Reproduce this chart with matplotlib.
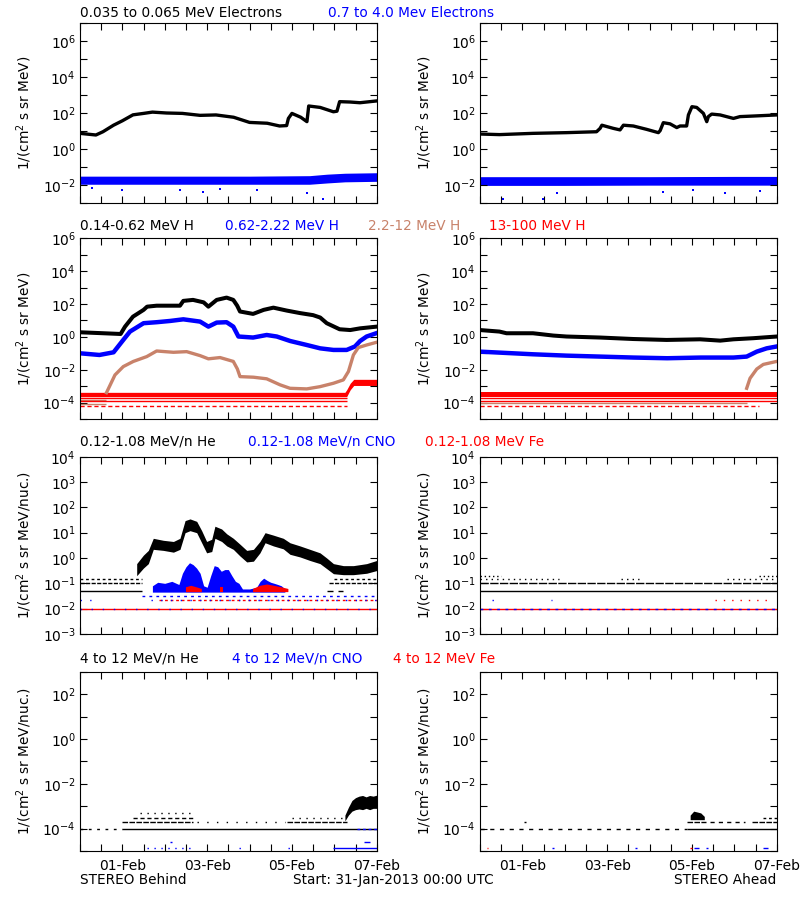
import numpy as np
import matplotlib
matplotlib.use("Agg")
import matplotlib.pyplot as plt
import matplotlib.dates as mdates
from matplotlib.ticker import FixedLocator, NullFormatter, LogFormatterMathtext

nan = np.nan
START = np.datetime64("2013-01-31T00:00")

BLACK = "#000000"
BLUE = "#0000ff"
SIENNA = "#c8826a"
RED = "#ff0000"

# ------------------------------------------------------------
# data: hours since 31-Jan-2013 00:00 UTC, fluxes
# ------------------------------------------------------------

# row 1: electrons
beh_elo_hours = [0, 9, 13, 19, 24, 30, 36, 41, 49, 58, 68, 77, 87, 96, 106, 113, 117,
                 118, 120, 125, 128.5, 129.5, 136, 143.5, 145.5, 147, 153, 158.5, 168]
beh_elo_flux = [7.4, 6.0, 9.1, 21, 37, 79, 95, 112, 100, 95, 74, 78, 58, 30, 27, 19, 20,
                50, 95, 58, 33, 245, 204, 117, 126, 427, 407, 372, 468]
beh_ehi_hours = [0, 48, 96, 130, 140, 150, 168]
beh_ehi_upper = [0.031, 0.031, 0.031, 0.033, 0.040, 0.045, 0.048]
beh_ehi_lower = [0.011, 0.011, 0.011, 0.011, 0.013, 0.015, 0.016]
beh_ehi_out_hours = [6.6, 23.6, 56.6, 69.8, 79, 100, 128.7, 137.8]
beh_ehi_out_flux = [0.0066, 0.0054, 0.0054, 0.004, 0.0058, 0.0054, 0.0038, 0.0017]

ahd_elo_hours = [0, 11, 30, 49, 66, 68, 69, 75.5, 79.3, 81.2, 86.8, 94.4, 101, 102, 103.8,
                 107.6, 111.4, 113.3, 117, 118, 120, 122.7, 126.5, 128.4, 129.3, 131.2,
                 136, 143.5, 147.2, 155, 168]
ahd_elo_flux = [6.8, 6.3, 7.4, 8.1, 9.1, 14, 21, 14, 11.5, 21, 19, 12.3, 8.1, 10.5, 29,
                25, 15.5, 19, 19, 78, 224, 204, 95, 33, 63, 87, 78, 50, 63, 68, 78]
ahd_ehi_hours = [0, 48, 96, 144, 168]
ahd_ehi_upper = [0.029, 0.029, 0.029, 0.030, 0.030]
ahd_ehi_lower = [0.0095, 0.0095, 0.0098, 0.0098, 0.0098]
ahd_ehi_out_hours = [13.2, 35.9, 43.4, 103.8, 120.8, 138.7, 158.6]
ahd_ehi_out_flux = [0.0017, 0.0017, 0.0038, 0.004, 0.0054, 0.0038, 0.0046]

# row 2: protons
beh_h1_hours = [0, 11, 23, 25.5, 30, 36, 38, 43.4, 49, 56.6, 58.5, 64, 70, 72.7, 77.4, 83,
                86.8, 89, 90.6, 98, 104, 109.5, 117, 124.6, 132, 136, 139.7, 147, 153,
                158.6, 168]
beh_h1_flux = [1.9, 1.7, 1.5, 4.2, 17, 44, 69, 79, 79, 79, 155, 178, 126, 69, 178, 245,
               178, 79, 35, 25, 44, 60, 40, 28, 21, 15, 6.8, 2.9, 2.6, 3.3, 4.2]
beh_h2_hours = [0, 11, 19, 24.5, 28.3, 36, 43.4, 51, 58.5, 68, 72.7, 77.4, 83, 86.8, 89.7,
                98, 105.7, 111.4, 119, 128.4, 136, 143.5, 151, 155.7, 158.6, 162.3, 168]
beh_h2_flux = [0.10, 0.079, 0.115, 0.65, 2.1, 6.8, 7.8, 9.3, 11.7, 8.5, 4.2, 7.4, 7.8, 4.2,
               1.05, 0.91, 1.3, 1.05, 0.56, 0.32, 0.20, 0.16, 0.16, 0.26, 0.56, 1.05, 1.7]
beh_h3_hours = [15, 19.8, 24.5, 30.2, 37.8, 43.4, 52.9, 60.4, 68, 72.7, 79.3, 86.8, 89.1,
                90.6, 98.2, 105.7, 113.3, 118.9, 128.4, 135.9, 143.5, 149.1, 152, 154.8,
                157.6, 162.3, 168]
beh_h3_flux = [4e-4, 4.8e-3, 0.0155, 0.032, 0.063, 0.138, 0.115, 0.126, 0.072, 0.046,
               0.055, 0.032, 0.0112, 0.0038, 0.0035, 0.0028, 0.0012, 7.4e-4, 6.8e-4,
               9.3e-4, 1.5e-3, 2.4e-3, 7.8e-3, 0.079, 0.224, 0.32, 0.47]
beh_h4_hours = [0, 150, 151, 153, 155, 168]
beh_h4_upper = [4.2e-4, 4.2e-4, 6e-4, 1.5e-3, 2.6e-3, 2.6e-3]
beh_h4_lower = [2.3e-4, 2.3e-4, 2.3e-4, 6e-4, 1.1e-3, 1.1e-3]

ahd_h1_hours = [0, 11, 15, 30, 41.5, 49, 68, 86.8, 105.7, 124.6, 136, 143.5, 154.8, 168]
ahd_h1_flux = [2.6, 2.1, 1.66, 1.66, 1.2, 1.05, 0.91, 0.74, 0.65, 0.71, 0.59, 0.71, 0.83, 1.05]
ahd_h2_hours = [0, 30, 49, 68, 87, 106, 125, 143.5, 151, 156.7, 162.3, 168]
ahd_h2_flux = [0.126, 0.087, 0.072, 0.063, 0.055, 0.05, 0.055, 0.055, 0.063, 0.126, 0.2, 0.26]
ahd_h3_hours = [151, 152.9, 156.7, 160.4, 168]
ahd_h3_flux = [7.4e-4, 3e-3, 0.011, 0.021, 0.032]
ahd_h4_hours = [0, 168]
ahd_h4_upper = [4.2e-4, 4.2e-4]
ahd_h4_lower = [2.3e-4, 2.3e-4]

# row 3: low energy ions
beh_he_hours = [32.1, 35.9, 38.7, 41.5, 47.2, 52.9, 56.6, 59.5, 62.3, 66.1, 68.9, 71.7,
                74.6, 76.4, 80.2, 83.1, 86.8, 90.6, 94.4, 98.2, 101.9, 104.8, 109.5,
                115.1, 118.9, 124.6, 130.2, 135.9, 139.7, 143.5, 149.1, 154.8, 162.3, 168]
beh_he_upper = [0.6, 1.3, 2.0, 6, 5, 4.5, 6, 30, 35, 28, 12, 4.5, 5.5, 18, 14, 9, 6, 3.5,
                2.0, 2.2, 4.5, 10, 8, 6, 4, 3, 2.2, 1.6, 1.0, 0.6, 0.5, 0.5, 0.6, 0.8]
beh_he_lower = [0.2, 0.4, 0.6, 2.2, 2.0, 1.7, 2.2, 10, 12, 10, 4, 1.6, 1.8, 6, 4.5, 3, 2.2,
                1.2, 0.7, 0.75, 1.6, 4, 3, 2.3, 1.4, 1.1, 0.8, 0.6, 0.38, 0.24, 0.22,
                0.22, 0.25, 0.32]
beh_cno_hours = [41, 44, 48, 52, 56, 58, 60, 62, 64, 66, 68, 70, 72, 74, 76, 78, 80, 82,
                 84, 86, 88, 90, 92, 96, 100, 102, 104, 106, 108, 110, 112, 114, 116]
beh_cno_upper = [0.08, 0.11, 0.10, 0.12, 0.09, 0.25, 0.45, 0.65, 0.55, 0.40, 0.25, 0.08,
                 0.07, 0.20, 0.50, 0.45, 0.30, 0.35, 0.35, 0.20, 0.12, 0.10, 0.06, 0.06,
                 0.07, 0.12, 0.16, 0.13, 0.11, 0.10, 0.09, 0.08, 0.06]
beh_fe_hours = [57, 60, 63, 66, 69, 70, 78, 79, 81, 82, 95, 98, 102, 106, 110, 114, 118, 120]
beh_fe_upper = [nan, 0.07, 0.08, 0.07, 0.06, nan, nan, 0.07, 0.07, nan, nan, 0.06, 0.08,
                0.09, 0.08, 0.07, 0.06, nan]
ion_floor = 0.045

# count levels drawn as horizontal runs: (level, colour, style, [(start_h, end_h), ...])
beh_ion_levels = [
    (0.01, RED, "-", [(0, 168)]),
    (0.01, BLUE, (0, (1, 7)), [(0, 168)]),
    (0.022, RED, (0, (2, 2)), [(45, 168)]),
    (0.022, BLUE, (0, (1, 6)), [(0, 6), (40, 168)]),
    (0.032, BLUE, (0, (2, 3)), [(35, 168)]),
    (0.05, BLACK, "-", [(0, 35), (140, 143), (146, 149)]),
    (0.1, BLACK, (0, (3, 1)), [(0, 35), (141, 168)]),
    (0.15, BLACK, (0, (2, 2)), [(0, 35), (144, 168)]),
]
ahd_ion_levels = [
    (0.01, RED, "-", [(0, 168)]),
    (0.01, BLUE, (0, (2, 4)), [(0, 168)]),
    (0.022, RED, (0, (1, 5)), [(133, 164)]),
    (0.022, BLUE, (0, (1, 1)), [(7, 8), (40, 41)]),
    (0.05, BLACK, "-", [(0, 168)]),
    (0.1, BLACK, (0, (6, 1)), [(0, 168)]),
    (0.15, BLACK, (0, (1, 3)), [(0, 45), (80, 90), (140, 168)]),
    (0.2, BLACK, (0, (1, 2)), [(0, 12), (158, 168)]),
]

# row 4: high energy ions
beh_he4_hours = [150, 152, 154, 156, 158, 160, 162, 164, 166, 168]
beh_he4_upper = [4e-4, 9e-4, 1.8e-3, 2.4e-3, 2.8e-3, 3.0e-3, 2.6e-3, 3.0e-3, 2.8e-3, 3.1e-3]
beh_he4_lower = [2.2e-4, 4e-4, 6e-4, 7e-4, 7.5e-4, 7e-4, 8e-4, 7e-4, 8e-4, 8e-4]
ahd_he4_hours = [117, 119, 121, 123, 125, 127, 128]
ahd_he4_upper = [nan, 4e-4, 6e-4, 5.5e-4, 5e-4, 3.5e-4, nan]
ahd_he4_lower = [nan, 2.5e-4, 2.5e-4, 2.5e-4, 2.5e-4, 2.5e-4, nan]

beh_hi_levels = [
    (1e-4, BLACK, (0, (2, 4)), [(0, 24)]),
    (1e-4, BLACK, "-", [(24, 168)]),
    (2e-4, BLACK, (0, (4, 1)), [(24, 64), (117, 151)]),
    (2e-4, BLACK, (0, (1, 6)), [(66, 116)]),
    (3e-4, BLACK, (0, (3, 2)), [(30, 64)]),
    (3e-4, BLACK, (0, (1, 4)), [(120, 150)]),
    (5e-4, BLACK, (0, (1, 4)), [(34, 64)]),
    (1e-4, BLUE, (0, (2, 2)), [(157, 168)]),
    (1.3e-5, BLUE, (0, (1, 4)), [(38, 64), (90, 91), (118, 119)]),
    (1.3e-5, BLUE, "-", [(143, 168)]),
    (2.5e-5, BLUE, "-", [(51, 52), (161, 164)]),
]
ahd_hi_levels = [
    (1e-4, BLACK, (0, (3, 4)), [(0, 117)]),
    (1e-4, BLACK, "-", [(117, 168)]),
    (2e-4, BLACK, (0, (4, 1)), [(117, 128), (154, 168)]),
    (2e-4, BLACK, (0, (3, 3)), [(130, 150)]),
    (2e-4, BLACK, "-", [(25, 26)]),
    (3e-4, BLACK, (0, (2, 2)), [(160, 168)]),
    (1.3e-5, BLUE, "-", [(41, 42), (88, 89), (121, 124), (128, 129), (160, 163)]),
    (1.3e-5, RED, "-", [(4, 4.5), (119, 120)]),
]

# text and axes
row_titles = [
    [("0.035 to 0.065 MeV Electrons", BLACK, 80), ("0.7 to 4.0 Mev Electrons", BLUE, 328)],
    [("0.14-0.62 MeV H", BLACK, 80), ("0.62-2.22 MeV H", BLUE, 225),
     ("2.2-12 MeV H", SIENNA, 368), ("13-100 MeV H", RED, 489)],
    [("0.12-1.08 MeV/n He", BLACK, 80), ("0.12-1.08 MeV/n CNO", BLUE, 248),
     ("0.12-1.08 MeV Fe", RED, 425)],
    [("4 to 12 MeV/n He", BLACK, 80), ("4 to 12 MeV/n CNO", BLUE, 232),
     ("4 to 12 MeV Fe", RED, 393)],
]
title_y_px = [13, 226, 442, 659]
row_ylims = [(1e-3, 1e7), (1e-5, 1e6), (1e-3, 1e4), (1e-5, 1e3)]
row_yticks = [[1e-2, 1e0, 1e2, 1e4, 1e6],
              [1e-4, 1e-2, 1e0, 1e2, 1e4, 1e6],
              [1e-3, 1e-2, 1e-1, 1e0, 1e1, 1e2, 1e3, 1e4],
              [1e-4, 1e-2, 1e0, 1e2]]
row_yminor = [[1e-3, 1e-1, 1e1, 1e3, 1e5, 1e7],
              [1e-5, 1e-3, 1e-1, 1e1, 1e3, 1e5],
              [],
              [1e-5, 1e-3, 1e-1, 1e1, 1e3]]
row_ylabels = ["1/(cm$^2$ s sr MeV)", "1/(cm$^2$ s sr MeV)",
               "1/(cm$^2$ s sr MeV/nuc.)", "1/(cm$^2$ s sr MeV/nuc.)"]


def t(hours):
    return START + (np.asarray(hours, dtype=float) * 60).astype("timedelta64[m]")


def draw_levels(ax, levels):
    for level, color, style, runs in levels:
        for a, b in runs:
            ax.plot(t([a, b]), [level, level], color=color, lw=1.0, ls=style,
                    solid_capstyle="butt")


# ------------------------------------------------------------
# figure
# ------------------------------------------------------------
plt.rcParams["font.family"] = ["DejaVu Sans"]
fig = plt.figure(figsize=(8, 9), dpi=100)

W, H = 800, 900
col_left = [80, 480]
panel_w = 296.7
row_top = [23, 238.3, 456.7, 671.7]
row_bot = [203, 419, 634, 851]
FS = 9.8

axes = []
for r in range(4):
    row = []
    for c in range(2):
        ax = fig.add_axes([col_left[c] / W, 1 - row_bot[r] / H,
                           panel_w / W, (row_bot[r] - row_top[r]) / H])
        ax.set_yscale("log")
        ax.set_ylim(*row_ylims[r])
        ax.set_xlim(t(0), t(168))
        ax.yaxis.set_major_locator(FixedLocator(row_yticks[r]))
        ax.yaxis.set_major_formatter(LogFormatterMathtext(base=10))
        ax.yaxis.set_minor_locator(FixedLocator(row_yminor[r]))
        ax.yaxis.set_minor_formatter(NullFormatter())
        ax.xaxis.set_major_locator(mdates.DayLocator(bymonthday=[1, 3, 5, 7]))
        ax.xaxis.set_minor_locator(mdates.HourLocator(byhour=[0, 12]))
        ax.xaxis.set_major_formatter(mdates.DateFormatter("%d-%b"))
        ax.tick_params(which="both", direction="in", top=True, right=True,
                       length=5, width=0.8, labelsize=10, pad=3)
        ax.tick_params(axis="x", labelbottom=(r == 3), pad=6)
        for s in ax.spines.values():
            s.set_linewidth(0.8)
        ax.set_ylabel(row_ylabels[r], fontsize=FS)
        ax.yaxis.set_label_coords(-0.155, 0.5)
        row.append(ax)
    axes.append(row)

# row 1
ax = axes[0][0]
ax.fill_between(t(beh_ehi_hours), beh_ehi_lower, beh_ehi_upper, color=BLUE, lw=0)
ax.scatter(t(beh_ehi_out_hours), beh_ehi_out_flux, s=4, color=BLUE, marker="s", lw=0)
ax.plot(t(beh_elo_hours), beh_elo_flux, color=BLACK, lw=2.4)
ax = axes[0][1]
ax.fill_between(t(ahd_ehi_hours), ahd_ehi_lower, ahd_ehi_upper, color=BLUE, lw=0)
ax.scatter(t(ahd_ehi_out_hours), ahd_ehi_out_flux, s=4, color=BLUE, marker="s", lw=0)
ax.plot(t(ahd_elo_hours), ahd_elo_flux, color=BLACK, lw=2.4)

# row 2
ax = axes[1][0]
ax.plot(t(beh_h1_hours), beh_h1_flux, color=BLACK, lw=2.9)
ax.plot(t(beh_h2_hours), beh_h2_flux, color=BLUE, lw=3.2)
ax.plot(t(beh_h3_hours), beh_h3_flux, color=SIENNA, lw=2.4)
draw_levels(ax, [(1.45e-4, SIENNA, "-", [(0, 15)]), (8e-5, SIENNA, "-", [(0, 15)]),
                 (1.8e-4, RED, "-", [(0, 151)]), (1.3e-4, RED, "-", [(0, 151)]),
                 (6.3e-5, RED, (0, (3, 2)), [(0, 151)])])
ax.fill_between(t(beh_h4_hours), beh_h4_lower, beh_h4_upper, color=RED, lw=0)
ax = axes[1][1]
ax.plot(t(ahd_h1_hours), ahd_h1_flux, color=BLACK, lw=2.9)
ax.plot(t(ahd_h2_hours), ahd_h2_flux, color=BLUE, lw=3.2)
ax.plot(t(ahd_h3_hours), ahd_h3_flux, color=SIENNA, lw=2.4)
draw_levels(ax, [(9e-5, SIENNA, "-", [(0, 151)]),
                 (1.8e-4, RED, "-", [(0, 168)]), (1.3e-4, RED, "-", [(0, 168)]),
                 (6.3e-5, RED, (0, (3, 2)), [(0, 158)])])
ax.fill_between(t(ahd_h4_hours), ahd_h4_lower, ahd_h4_upper, color=RED, lw=0)

# row 3
ax = axes[2][0]
draw_levels(ax, beh_ion_levels)
ax.fill_between(t(beh_he_hours), beh_he_lower, beh_he_upper, color=BLACK, lw=0)
ax.fill_between(t(beh_cno_hours), ion_floor, beh_cno_upper, color=BLUE, lw=0)
ax.fill_between(t(beh_fe_hours), ion_floor, beh_fe_upper, color=RED, lw=0)
ax = axes[2][1]
draw_levels(ax, ahd_ion_levels)

# row 4
ax = axes[3][0]
draw_levels(ax, beh_hi_levels)
ax.fill_between(t(beh_he4_hours), beh_he4_lower, beh_he4_upper, color=BLACK, lw=0)
ax = axes[3][1]
draw_levels(ax, ahd_hi_levels)
ax.fill_between(t(ahd_he4_hours), ahd_he4_lower, ahd_he4_upper, color=BLACK, lw=0)

# titles above each row
for r in range(4):
    for text, color, xpx in row_titles[r]:
        fig.text(xpx / W, 1 - title_y_px[r] / H, text, color=color, fontsize=FS,
                 ha="left", va="center")

fig.text(80 / W, 1 - 880 / H, "STEREO Behind", fontsize=FS, ha="left", va="center")
fig.text(293 / W, 1 - 880 / H, "Start: 31-Jan-2013 00:00 UTC", fontsize=FS,
         ha="left", va="center")
fig.text(776 / W, 1 - 880 / H, "STEREO Ahead", fontsize=FS, ha="right", va="center")

fig.savefig("out.png", dpi=100)
